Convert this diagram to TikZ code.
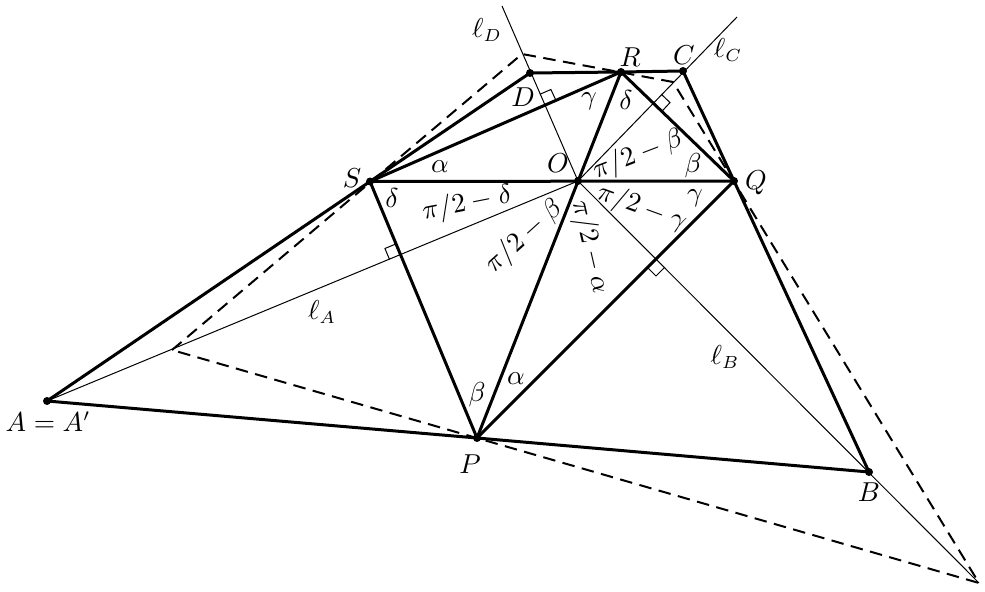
\documentclass[tikz,border=0pt]{standalone}
\usetikzlibrary{calc}
\begin{document}
\begin{tikzpicture}[x=0.4pt,y=-0.4pt,
  edge/.style={line width=1.2pt,line join=round},
  aux/.style={line width=0.4pt},
  dashline/.style={line width=0.8pt,dash pattern=on 5pt off 3pt},
  lbl/.style={font=\fontsize{10.5}{12.5}\selectfont,inner sep=0pt},
  ramark/.style={line width=0.4pt}]
\useasboundingbox (0,0) rectangle (985,592);
% points
\coordinate (O) at (578,181);
\coordinate (S) at (370,181.5);
\coordinate (Q) at (734,181);
\coordinate (R) at (621,72);
\coordinate (P) at (477,438);
\coordinate (A) at (47,401);
\coordinate (B) at (869,472);
\coordinate (C) at (683,71);
\coordinate (D) at (530,73);
% dashed quadrilateral corners
\coordinate (A1) at (172,350);
\coordinate (D1) at (522,54);
\coordinate (C1) at (673,82);
\coordinate (B1) at (979,583);
% free ends of the lines
\coordinate (lCend) at (737,17);
\coordinate (lDend) at (502,6);
% thin lines
\draw[aux] (O) -- (A);
\draw[aux] (O) -- (B1);
\draw[aux] (O) -- (lCend);
\draw[aux] (O) -- (lDend);
% right-angle marks
\coordinate (FA) at ($(S)!(O)!(P)$);
\coordinate (FAu) at ($(FA)!4.8pt!(S)$);
\coordinate (FAv) at ($(FA)!4.8pt!(A)$);
\draw[ramark] (FAu) -- ($(FAu)+(FAv)-(FA)$) -- (FAv);
\coordinate (FB) at ($(P)!(O)!(Q)$);
\coordinate (FBu) at ($(FB)!4.8pt!(P)$);
\coordinate (FBv) at ($(FB)!4.8pt!(B)$);
\draw[ramark] (FBu) -- ($(FBu)+(FBv)-(FB)$) -- (FBv);
\coordinate (FC) at ($(Q)!(O)!(R)$);
\coordinate (FCu) at ($(FC)!4.8pt!(Q)$);
\coordinate (FCv) at ($(FC)!4.8pt!(C)$);
\draw[ramark] (FCu) -- ($(FCu)+(FCv)-(FC)$) -- (FCv);
\coordinate (FD) at ($(R)!(O)!(S)$);
\coordinate (FDu) at ($(FD)!4.8pt!(R)$);
\coordinate (FDv) at ($(FD)!4.8pt!(D)$);
\draw[ramark] (FDu) -- ($(FDu)+(FDv)-(FD)$) -- (FDv);
% dashed quadrilateral
\draw[dashline] (A1) -- (D1) -- (C1) -- (B1) -- cycle;
% thick edges
\draw[edge] (A) -- (P) -- (B) -- (Q) -- (C) -- (R) -- (D) -- (S) -- cycle;
\draw[edge] (S) -- (P) -- (Q) -- (R) -- cycle;
\draw[edge] (S) -- (Q);
\draw[edge] (P) -- (R);
% dots
\foreach \p in {A,P,B,Q,O,S,R,C,D} \fill (\p) circle[radius=1.6pt];
% point labels
\node[lbl] (tA) at (48,422) {$A=A'$};
\node[lbl] (tP) at (470,464) {$P$};
\node[lbl] (tB) at (869,492) {$B$};
\node[lbl] (tQ) at (756,183) {$Q$};
\node[lbl] (tO) at (558,163) {$O$};
\node[lbl] (tS) at (352,178) {$S$};
\node[lbl] (tR) at (630,57) {$R$};
\node[lbl] (tC) at (684,55) {$C$};
\node[lbl] (tD) at (523,97) {$D$};
% line labels
\node[lbl] (tlA) at (322,312) {$\ell_A$};
\node[lbl] (tlB) at (725,357) {$\ell_B$};
\node[lbl] (tlC) at (728,50) {$\ell_C$};
\node[lbl] (tlD) at (487,30) {$\ell_D$};
% angle labels
\node[lbl] (gR) at (589,101) {$\gamma$};
\node[lbl] (dR) at (626,100) {$\delta$};
\node[lbl] (aS) at (440,167) {$\alpha$};
\node[lbl] (dS) at (392,198) {$\delta$};
\node[lbl] (bQ) at (693,166) {$\beta$};
\node[lbl] (gQ) at (695,198) {$\gamma$};
\node[lbl] (bP) at (477,395) {$\beta$};
\node[lbl] (aP) at (516,379) {$\alpha$};
\node[lbl,rotate=21] (tOb) at (638,155) {$\pi/2-\beta$};
\node[lbl,rotate=11] (tOd) at (467,204) {$\pi/2-\delta$};
\node[lbl,rotate=-20] (tOg) at (642,208) {$\pi/2-\gamma$};
\node[lbl,rotate=42] (tOb2) at (524,237) {$\pi/2-\beta$};
\node[lbl,rotate=-77] (tOa) at (590,247) {$\pi/2-\alpha$};
\end{tikzpicture}
\end{document}
